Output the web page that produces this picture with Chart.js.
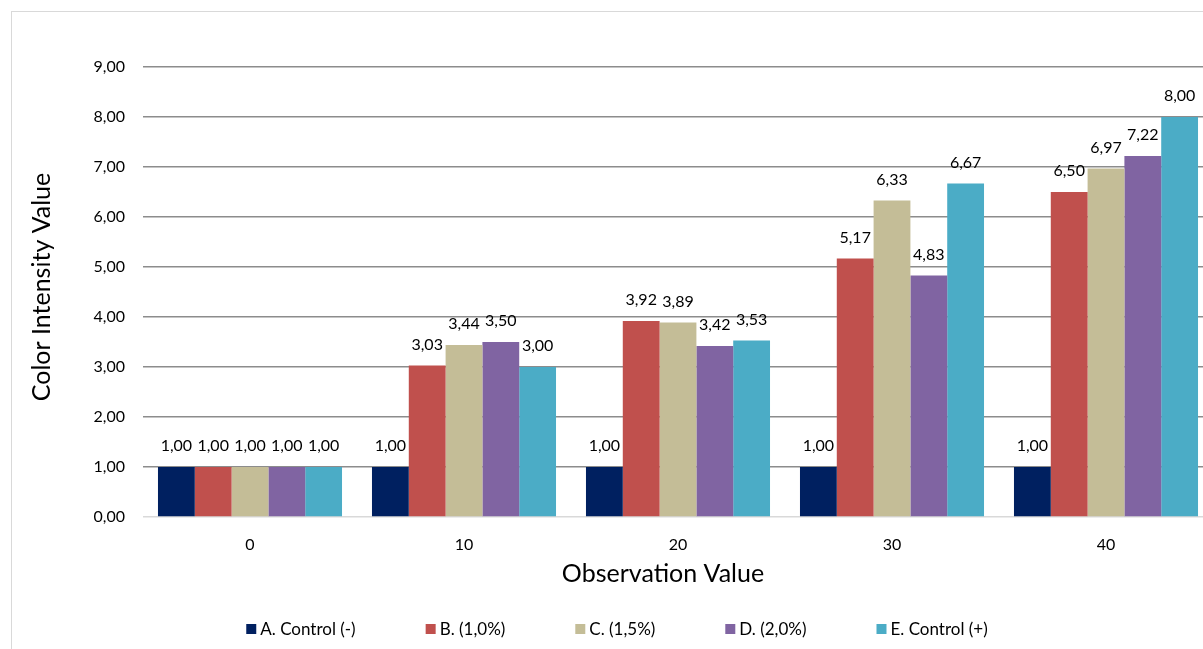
<!DOCTYPE html>
<html>
<head>
<meta charset="utf-8">
<title>Color Intensity Value</title>
<script src="https://cdn.jsdelivr.net/npm/chart.js@4.4.1/dist/chart.umd.min.js"></script>
<style>
  html, body { margin: 0; padding: 0; background: #ffffff; overflow: hidden; }
  #wrap { position: relative; width: 1203px; height: 649px; overflow: hidden; }
  #frame {
    position: absolute; left: 11px; top: 11px; width: 1300px; height: 700px;
    border-left: 1.5px solid #d9d9d9; border-top: 1.5px solid #d9d9d9;
    pointer-events: none;
  }
  canvas { position: absolute; left: 0; top: 0; }
</style>
</head>
<body>
<div id="wrap">
  <canvas id="chart" width="1240" height="649"></canvas>
  <div id="frame"></div>
</div>
<script>
// Observation points on the x axis
const categories = ['0', '10', '20', '30', '40'];

// Series names and colours
const seriesNames = ['A. Control (-)', 'B. (1,0%)', 'C. (1,5%)', 'D. (2,0%)', 'E. Control (+)'];
const seriesColors = ['#002060', '#C0504D', '#C4BD97', '#8064A2', '#4BACC6'];

// Color intensity per series
const controlNeg = [1.00, 1.00, 1.00, 1.00, 1.00];
const conc10 = [1.00, 3.03, 3.92, 5.17, 6.50];
const conc15 = [1.00, 3.44, 3.89, 6.33, 6.97];
const conc20 = [1.00, 3.50, 3.42, 4.83, 7.22];
const controlPos = [1.00, 3.00, 3.53, 6.67, 8.00];

// Y axis range and step
const yMin = 0;
const yMax = 9;
const yStep = 1;

const FONT = 'Lato, "Open Sans", sans-serif';
const fmt = v => v.toFixed(2).replace('.', ',');

const seriesValues = [controlNeg, conc10, conc15, conc20, controlPos];

const datasets = seriesValues.map((vals, i) => ({
  label: seriesNames[i],
  data: vals,
  backgroundColor: seriesColors[i],
  borderWidth: 0,
  categoryPercentage: 0.86,
  barPercentage: 1.0
}));

// Value labels above each bar
const valueLabels = {
  id: 'valueLabels',
  afterDatasetsDraw(chart) {
    const ctx = chart.ctx;
    ctx.save();
    ctx.font = '16px ' + FONT;
    ctx.fillStyle = '#000000';
    ctx.textAlign = 'center';
    ctx.textBaseline = 'middle';
    chart.data.datasets.forEach((ds, di) => {
      const meta = chart.getDatasetMeta(di);
      meta.data.forEach((bar, i) => {
        ctx.fillText(fmt(ds.data[i]), bar.x, bar.y - 21);
      });
    });
    ctx.restore();
  }
};

// Axis titles and legend row
const decorations = {
  id: 'decorations',
  afterDraw(chart) {
    const ctx = chart.ctx;
    ctx.save();
    ctx.fillStyle = '#000000';

    // x axis title
    ctx.font = '25px ' + FONT;
    ctx.textAlign = 'center';
    ctx.textBaseline = 'middle';
    ctx.fillText('Observation Value', 663, 574);

    // y axis title
    ctx.save();
    ctx.translate(42, 287);
    ctx.rotate(-Math.PI / 2);
    ctx.fillText('Color Intensity Value', 0, 0);
    ctx.restore();

    // legend
    ctx.font = '17px ' + FONT;
    ctx.textAlign = 'left';
    const box = 10, gapBox = 4, gapItem = 70;
    const widths = chart.data.datasets.map(ds => ctx.measureText(ds.label).width);
    let total = 0;
    widths.forEach((w, i) => { total += box + gapBox + w + (i < widths.length - 1 ? gapItem : 0); });
    let x = 617 - total / 2;
    const cy = 629;
    chart.data.datasets.forEach((ds, i) => {
      ctx.fillStyle = ds.backgroundColor;
      ctx.fillRect(x, cy - box / 2, box, box);
      ctx.fillStyle = '#000000';
      ctx.fillText(ds.label, x + box + gapBox, cy + 1);
      x += box + gapBox + widths[i] + gapItem;
    });
    ctx.restore();
  }
};

new Chart(document.getElementById('chart'), {
  type: 'bar',
  data: { labels: categories, datasets },
  options: {
    responsive: false,
    animation: false,
    devicePixelRatio: 1,
    layout: { padding: { top: 67, right: 27, bottom: 0, left: 0 } },
    plugins: {
      legend: { display: false },
      tooltip: { enabled: false },
      title: { display: false }
    },
    scales: {
      x: {
        grid: { display: false, drawTicks: false },
        border: { display: false },
        ticks: { color: '#000000', font: { family: FONT, size: 16 }, padding: 18, maxRotation: 0 },
        afterFit(scale) { scale.height = 132; }
      },
      y: {
        min: yMin,
        max: yMax,
        grid: {
          drawTicks: false,
          lineWidth: 1.5,
          color: c => (c.tick && c.tick.value === 0 ? '#d9d9d9' : '#8c8c8c')
        },
        border: { display: false },
        ticks: {
          stepSize: yStep,
          color: '#000000',
          font: { family: FONT, size: 16 },
          padding: 18,
          callback: v => fmt(v)
        },
        afterFit(scale) { scale.width = 143; }
      }
    }
  },
  plugins: [valueLabels, decorations]
});
</script>
</body>
</html>
